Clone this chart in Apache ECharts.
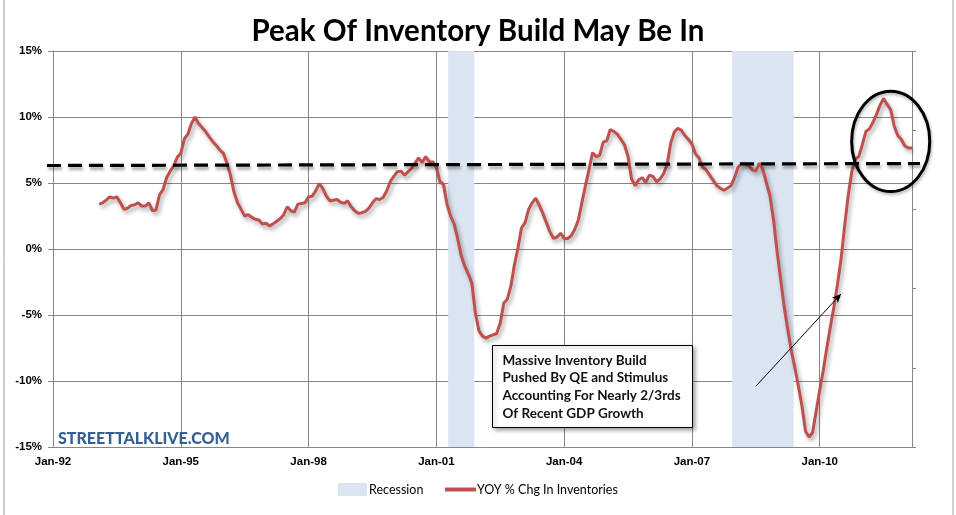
<!DOCTYPE html>
<html><head><meta charset="utf-8">
<script src="https://cdn.jsdelivr.net/npm/echarts@6/dist/echarts.min.js"></script>
<style>html,body{margin:0;padding:0;background:#fff}#c{width:956px;height:515px}</style>
</head><body><div id="c"></div>
<script>
// ---- data ----
const MONTH_NAMES = ['Jan','Feb','Mar','Apr','May','Jun','Jul','Aug','Sep','Oct','Nov','Dec'];
const firstYear = 1992, lastYear = 2012, lastMonthIndex = 2; // Jan-92 .. Mar-12
const xTickLabels = ['Jan-92','Jan-95','Jan-98','Jan-01','Jan-04','Jan-07','Jan-10'];
const yTickLabels = ['-15%','-10%','-5%','0%','5%','10%','15%'];
const seriesStart = 'Feb-93';
// YOY % change in inventories, monthly from Feb-93
const yoyInventories = [
  3.4, 3.5, 3.7, 3.95, 3.85, 3.95, 3.5, 3.0, 3.1, 3.3, 3.35,                 // 1993 (Feb-Dec)
  3.5, 3.25, 3.25, 3.5, 2.9, 2.95, 4.1, 4.5, 5.4, 5.9, 6.3, 6.95,             // 1994
  7.25, 8.35, 8.7, 9.5, 10.0, 9.5, 9.2, 8.9, 8.5, 8.15, 7.85, 7.5,            // 1995
  7.25, 6.5, 5.6, 4.3, 3.5, 3.0, 2.5, 2.6, 2.4, 2.25, 2.2, 1.9,               // 1996
  1.95, 1.75, 1.9, 2.1, 2.3, 2.6, 3.2, 2.9, 2.8, 3.4, 3.45, 3.5,              // 1997
  3.95, 4.0, 4.4, 4.95, 4.6, 4.0, 3.65, 3.7, 3.75, 3.55, 3.45, 3.65,          // 1998
  3.2, 2.9, 2.7, 2.75, 2.85, 3.1, 3.5, 3.8, 3.75, 3.9, 4.4, 5.1,              // 1999
  5.5, 5.85, 5.9, 5.6, 5.85, 6.1, 6.5, 6.9, 6.55, 7.0, 6.6, 6.6,              // 2000
  6.2, 5.1, 4.9, 3.4, 2.5, 1.9, 0.8, -0.5, -1.3, -1.9, -2.6, -4.85,           // 2001
  -6.2, -6.6, -6.75, -6.6, -6.5, -6.4, -5.6, -4.1, -3.8, -2.8, -1.2, 0.1,     // 2002
  1.6, 2.0, 3.0, 3.5, 3.85, 3.3, 2.7, 2.0, 1.3, 0.8, 0.9, 1.2,                // 2003
  0.8, 0.8, 1.0, 1.5, 2.2, 3.5, 4.8, 6.0, 7.3, 7.0, 7.1, 8.1,                 // 2004
  8.2, 9.05, 8.9, 8.7, 8.3, 7.9, 7.0, 5.3, 4.8, 5.25, 5.4, 5.05,              // 2005
  5.6, 5.5, 5.1, 5.3, 5.7, 6.4, 8.0, 8.85, 9.15, 9.0, 8.6, 8.3,               // 2006
  7.95, 7.2, 6.9, 6.2, 6.0, 5.6, 5.2, 4.8, 4.6, 4.45, 4.6, 4.8,               // 2007
  5.4, 6.2, 6.45, 6.4, 6.3, 6.0, 5.9, 6.5, 6.0, 5.0, 4.0, 2.2,                // 2008
  -0.2, -2.3, -4.4, -6.1, -7.7, -9.0, -10.4, -11.9, -13.8, -14.25, -13.9, -12.3, // 2009
  -10.7, -9.2, -7.5, -5.9, -4.4, -2.7, -0.8, 1.7, 4.0, 5.8, 6.8, 7.0,         // 2010
  7.9, 8.9, 9.1, 9.6, 10.2, 10.9, 11.4, 10.95, 10.55, 9.3, 8.6, 8.3,          // 2011
  7.8, 7.65, 7.65                                                            // 2012
];
const recessions = [['May-01','Nov-01'], ['Jan-08','May-09']];
const trendLevel = 6.4;
const annotationText = ['Massive Inventory Build','Pushed By QE and Stimulus','Accounting For Nearly 2/3rds','Of Recent GDP Growth'];
const arrowFrom = ['Jul-08', -10.4], arrowTo = ['Jul-10', -3.4];
const circleCenter = ['Sep-11', 8.15], circleRadius = [11, 3.8]; // months, percent

// ---- build ----
const months = [];
for (let y = firstYear; y <= lastYear; y++) {
  for (let m = 0; m < 12; m++) {
    if (y === lastYear && m > lastMonthIndex) break;
    months.push(MONTH_NAMES[m] + '-' + String(y).slice(2));
  }
}
const startIdx = months.indexOf(seriesStart);
const lineData = months.map((_, i) => (i >= startIdx && i - startIdx < yoyInventories.length) ? yoyInventories[i - startIdx] : null);
const recData = months.map((_, i) => recessions.some(r => i >= months.indexOf(r[0]) && i <= months.indexOf(r[1])) ? 1 : null);

const GRID = '#878787';
const REC = '#dbe5f1';
const chart = echarts.init(document.getElementById('c'), null, {renderer: 'canvas'});
const option = {
  backgroundColor: '#fff',
  animation: false,
  title: {
    text: 'Peak Of Inventory Build May Be In', left: 'center', top: 11,
    textStyle: {fontFamily: 'Lato', fontWeight: 'bold', fontSize: 29.5, color: '#000'}
  },
  legend: [
    {data: ['Recession'], left: 338, top: 483, padding: 0, icon: 'rect', itemWidth: 29, itemHeight: 13, itemGap: 0,
     textStyle: {fontFamily: 'Lato', fontSize: 12.5, color: '#000', padding: [0, 0, 0, -3]}},
    {data: ['YOY % Chg In Inventories'], left: 445, top: 483, padding: 0, icon: 'rect', itemWidth: 31, itemHeight: 4,
     textStyle: {fontFamily: 'Lato', fontSize: 12.5, color: '#000', padding: [0, 0, 0, -4]}}
  ],
  grid: {left: 53, right: 44, top: 51, bottom: 68, containLabel: false},
  xAxis: {
    type: 'category', data: months, boundaryGap: false,
    axisLine: {show: true, lineStyle: {color: GRID, width: 1}},
    axisTick: {show: false},
    axisLabel: {interval: (i, v) => xTickLabels.includes(v), margin: 9, fontFamily: 'Liberation Sans', fontWeight: 'bold', fontSize: 11.5, color: '#000'},
    splitLine: {show: true, interval: (i, v) => xTickLabels.includes(v), lineStyle: {color: GRID, width: 1}}
  },
  yAxis: [
    {type: 'value', min: -15, max: 15, interval: 5,
     axisLine: {show: true, lineStyle: {color: GRID}},
     axisTick: {show: true, length: 5, lineStyle: {color: GRID}},
     axisLabel: {formatter: v => yTickLabels[(v + 15) / 5], margin: 11, fontFamily: 'Liberation Sans', fontWeight: 'bold', fontSize: 11.5, color: '#000'},
     splitLine: {show: true, lineStyle: {color: GRID, width: 1}}},
    {type: 'value', min: 0, max: 1, interval: 0.2, position: 'right',
     axisLine: {show: true, lineStyle: {color: GRID}},
     axisTick: {show: true, length: 4, lineStyle: {color: GRID}},
     axisLabel: {show: false}, splitLine: {show: false}}
  ],
  series: [
    {name: 'Recession', type: 'bar', yAxisIndex: 1, data: recData, barWidth: '135%', silent: true,
     itemStyle: {color: REC, borderWidth: 0}, z: 1},
    {name: 'YOY % Chg In Inventories', type: 'line', data: lineData, showSymbol: false, symbol: 'none', silent: true,
     lineStyle: {color: '#c0504d', width: 3, shadowColor: 'rgba(0,0,0,0.35)', shadowBlur: 4, shadowOffsetX: 2, shadowOffsetY: 3},
     itemStyle: {color: '#c0504d'}, z: 3,
     markLine: {
       silent: true, animation: false, label: {show: false}, symbol: ['none', 'none'],
       data: [
         [{coord: arrowFrom, symbol: 'none'}, {coord: arrowTo, symbol: 'arrow', symbolSize: [6, 9], lineStyle: {color: '#000', width: 1, type: 'solid'}}]
       ],
       emphasis: {disabled: true}
     }}
  ]
};
chart.setOption(option);

const toPx = (cat, val) => chart.convertToPixel({seriesIndex: 1}, [typeof cat === 'number' ? cat : months.indexOf(cat), val]);
const c0 = toPx(circleCenter[0], circleCenter[1]);
const c1 = toPx(months.indexOf(circleCenter[0]) + circleRadius[0], circleCenter[1] + circleRadius[1]);
const tL = toPx(0, trendLevel), tR = toPx(months.length - 1, trendLevel);
chart.setOption({
  graphic: [
    {type: 'line', shape: {x1: 4, y1: 0, x2: 4, y2: 515}, style: {stroke: '#a0a0a0', lineWidth: 1}, silent: true},
    {type: 'line', shape: {x1: 953, y1: 0, x2: 953, y2: 515}, style: {stroke: '#a0a0a0', lineWidth: 1}, silent: true},
    {type: 'line', shape: {x1: tL[0] - 6, y1: tL[1] + 1, x2: tR[0] + 8, y2: tR[1] - 1}, z: 9, silent: true,
     style: {stroke: '#000', lineWidth: 3.2, lineDash: [14, 7], shadowColor: 'rgba(0,0,0,0.35)', shadowBlur: 3, shadowOffsetX: 1, shadowOffsetY: 3}},
    {type: 'ellipse', shape: {cx: c0[0], cy: c0[1], rx: Math.abs(c1[0] - c0[0]), ry: Math.abs(c1[1] - c0[1])},
     style: {fill: 'none', stroke: '#000', lineWidth: 3, shadowColor: 'rgba(0,0,0,0.3)', shadowBlur: 3, shadowOffsetX: 1, shadowOffsetY: 2}, z: 10, silent: true},
    {type: 'group', left: 492, top: 345, z: 10, children: [
      {type: 'rect', shape: {x: 0, y: 0, width: 200, height: 82},
       style: {fill: '#fff', stroke: '#000', lineWidth: 1, shadowColor: 'rgba(0,0,0,0.35)', shadowBlur: 4, shadowOffsetX: 2, shadowOffsetY: 2}},
      {type: 'text', x: 10, y: 6, style: {text: annotationText.join('\n'), fill: '#111', font: 'bold 13.5px Lato', lineHeight: 17.7}}
    ]},
    {type: 'text', left: 58, top: 431, z: 10, style: {text: 'STREETTALKLIVE.COM', fill: '#376092', font: '900 16px Lato',
      shadowColor: 'rgba(0,0,0,0.45)', shadowBlur: 2, shadowOffsetX: 1, shadowOffsetY: 1}}
  ]
});
</script></body></html>
